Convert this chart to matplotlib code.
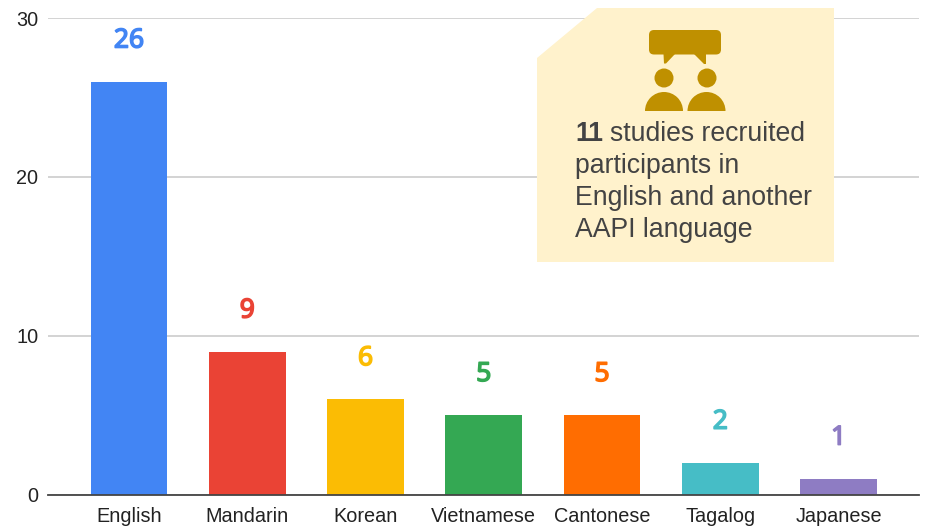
import matplotlib
matplotlib.use('Agg')
import matplotlib.pyplot as plt
import matplotlib.patheffects as pe
from matplotlib.patches import Polygon, Circle, FancyBboxPatch, Wedge

languages = ['English', 'Mandarin', 'Korean', 'Vietnamese', 'Cantonese', 'Tagalog', 'Japanese']
studies = [26, 9, 6, 5, 5, 2, 1]
bar_colors = ['#4285f4', '#ea4335', '#fbbc04', '#34a853', '#ff6d01', '#46bdc6', '#8e7cc3']
y_ticks = [0, 10, 20, 30]

W, H = 926, 529
plt.rcParams['font.family'] = ['Liberation Sans', 'DejaVu Sans']

fig = plt.figure(figsize=(W / 100, H / 100), dpi=100)
ax = fig.add_axes([48 / W, 1 - 494.5 / H, 871 / W, 476.5 / H])
ax.bar(range(len(languages)), studies, width=0.65, color=bar_colors, zorder=3)
ax.set_xlim(-0.685, 6.68)
ax.set_ylim(0, 30)
ax.set_yticks(y_ticks)
ax.set_xticks(range(len(languages)))
ax.set_xticklabels(languages, va='baseline')
ax.tick_params(axis='both', length=0, labelsize=14.3, labelcolor='#222222')
ax.tick_params(axis='x', pad=20)
ax.tick_params(axis='y', pad=7)
ax.grid(axis='y', color='#cccccc', lw=1.2, zorder=0)
for side in ['top', 'right', 'left']:
    ax.spines[side].set_visible(False)
ax.spines['bottom'].set_color('#444444')
ax.spines['bottom'].set_linewidth(1.3)
ax.spines['bottom'].set_zorder(4)

for i, value in enumerate(studies):
    label = ax.annotate(str(value), (i, value), xytext=(0, 29.5), textcoords='offset points',
                        ha='center', va='center', fontsize=19,
                        family=['Noto Sans', 'DejaVu Sans'], color=bar_colors[i])
    # no bold cut of this family gets picked up, so thicken it
    label.set_path_effects([pe.withStroke(linewidth=1.1, foreground=bar_colors[i])])

# callout box and icon, in image pixels
over = fig.add_axes([0, 0, 1, 1], zorder=5)
over.set_xlim(0, W)
over.set_ylim(H, 0)
over.axis('off')
over.patch.set_alpha(0)

gold = '#bf9000'
over.add_patch(Polygon([(537, 58), (597, 8), (834, 8), (834, 262), (537, 262)],
                       closed=True, fc='#fff2cc', ec='none'))
over.add_patch(FancyBboxPatch((649, 30), 72, 24.5, boxstyle='round,pad=0,rounding_size=5',
                              fc=gold, ec='none'))
over.add_patch(Polygon([(663.5, 54), (675, 54), (666, 63.5), (664, 63.5)], fc=gold, ec='none'))
over.add_patch(Polygon([(694, 54), (706, 54), (706, 63.5), (704, 63.5)], fc=gold, ec='none'))
for cx in [664, 707]:
    over.add_patch(Circle((cx, 78), 9.5, fc=gold, ec='none'))
for cx in [664, 706.5]:
    over.add_patch(Wedge((cx, 111), 19, 180, 360, fc=gold, ec='none'))

txt = '#434343'
over.text(575, 134, '11', fontsize=19.2, fontweight='bold', color=txt, va='center')
over.text(610, 134, 'studies recruited', fontsize=19.2, color=txt, va='center')
over.text(575, 166, 'participants in', fontsize=19.2, color=txt, va='center')
over.text(575, 198, 'English and another', fontsize=19.2, color=txt, va='center')
over.text(575, 230, 'AAPI language', fontsize=19.2, color=txt, va='center')

fig.savefig('out.png', dpi=100)
